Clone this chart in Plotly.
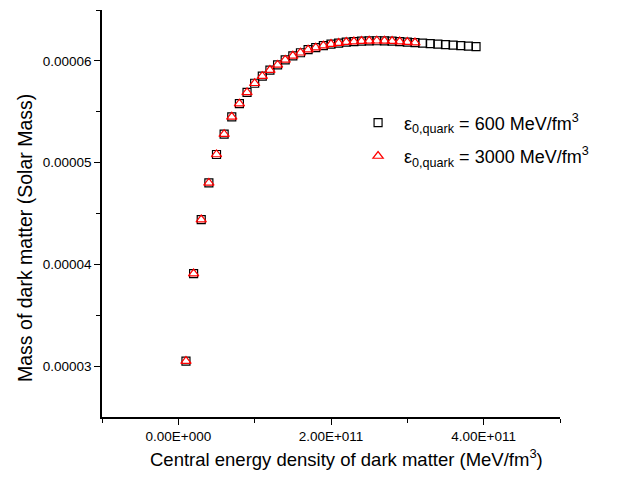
import plotly.graph_objects as go

# Central energy density of dark matter (MeV/fm^3)
x_600 = [1e10, 2e10, 3e10, 4e10, 5e10, 6e10, 7e10, 8e10, 9e10, 10e10,
         11e10, 12e10, 13e10, 14e10, 15e10, 16e10, 17e10, 18e10, 19e10, 20e10,
         21e10, 22e10, 23e10, 24e10, 25e10, 26e10, 27e10, 28e10, 29e10, 30e10,
         31e10, 32e10, 33e10, 34e10, 35e10, 36e10, 37e10, 38e10, 39e10]
y_600 = [3.05e-5, 3.91e-5, 4.44e-5, 4.80e-5, 5.08e-5, 5.28e-5, 5.45e-5, 5.58e-5, 5.69e-5, 5.78e-5,
         5.85e-5, 5.91e-5, 5.96e-5, 6.01e-5, 6.05e-5, 6.08e-5, 6.11e-5, 6.13e-5, 6.15e-5, 6.165e-5,
         6.175e-5, 6.185e-5, 6.19e-5, 6.195e-5, 6.197e-5, 6.198e-5, 6.197e-5, 6.195e-5, 6.19e-5, 6.185e-5,
         6.18e-5, 6.175e-5, 6.17e-5, 6.165e-5, 6.16e-5, 6.155e-5, 6.15e-5, 6.145e-5, 6.14e-5]

x_3000 = [1e10, 2e10, 3e10, 4e10, 5e10, 6e10, 7e10, 8e10, 9e10, 10e10,
          11e10, 12e10, 13e10, 14e10, 15e10, 16e10, 17e10, 18e10, 19e10, 20e10,
          21e10, 22e10, 23e10, 24e10, 25e10, 26e10, 27e10, 28e10, 29e10, 30e10, 31e10]
y_3000 = [3.05e-5, 3.91e-5, 4.44e-5, 4.80e-5, 5.08e-5, 5.28e-5, 5.45e-5, 5.58e-5, 5.69e-5, 5.78e-5,
          5.85e-5, 5.91e-5, 5.96e-5, 6.01e-5, 6.05e-5, 6.08e-5, 6.11e-5, 6.13e-5, 6.15e-5, 6.165e-5,
          6.175e-5, 6.185e-5, 6.19e-5, 6.195e-5, 6.197e-5, 6.198e-5, 6.197e-5, 6.195e-5, 6.19e-5, 6.185e-5,
          6.18e-5]

x_tickvals = [0, 2e11, 4e11]
x_ticktext = ["0.00E+000", "2.00E+011", "4.00E+011"]
x_minor = [-1e11, 1e11, 3e11, 5e11]
y_tickvals = [3e-5, 4e-5, 5e-5, 6e-5]
y_ticktext = ["0.00003", "0.00004", "0.00005", "0.00006"]
y_minor = [3.5e-5, 4.5e-5, 5.5e-5, 6.5e-5]

x_title = "Central energy density of dark matter (MeV/fm<sup>3</sup>)"
y_title = "Mass of dark matter (Solar Mass)"

font_family = "Liberation Sans, Arial, sans-serif"

fig = go.Figure()
fig.add_trace(go.Scatter(
    x=x_600, y=y_600, mode="markers", legendgroup="a",
    name="ε<sub>0,quark</sub> = 600 MeV/fm<sup>3</sup>",
    marker=dict(symbol="square-open", size=8, color="black", line=dict(width=1.2, color="black")),
))
fig.add_trace(go.Scatter(
    x=x_3000, y=y_3000, mode="markers", legendgroup="b",
    name="ε<sub>0,quark</sub> = 3000 MeV/fm<sup>3</sup>",
    marker=dict(symbol="triangle-up-open", size=9, color="red", line=dict(width=1.2, color="red")),
))

fig.update_layout(
    width=622, height=479,
    margin=dict(l=94, r=70, t=2, b=70),
    plot_bgcolor="white", paper_bgcolor="white",
    font=dict(family=font_family, color="black", size=13),
    showlegend=True,
    legend=dict(x=0.546, y=0.768, xanchor="left", yanchor="top",
                bgcolor="rgba(0,0,0,0)", font=dict(size=18, family=font_family),
                itemwidth=42, tracegroupgap=7),
    annotations=[
        dict(text=x_title, xref="paper", yref="paper", x=0.533, y=-0.10,
             xanchor="center", yanchor="middle", showarrow=False, font=dict(size=18.5)),
        dict(text=y_title, xref="paper", yref="paper", x=-0.168, y=0.44, textangle=-90,
             xanchor="center", yanchor="middle", showarrow=False, font=dict(size=19.5)),
    ],
)
fig.update_xaxes(
    range=[-1e11, 5e11], showgrid=False, zeroline=False, automargin=False,
    showline=True, linecolor="black", linewidth=1.5,
    tickmode="array", tickvals=x_tickvals, ticktext=x_ticktext,
    ticks="outside", ticklen=6, tickwidth=1.2, tickcolor="black",
    minor=dict(tickmode="array", tickvals=x_minor, ticks="outside", ticklen=4, tickwidth=1.2, tickcolor="black"),
    tickfont=dict(size=13.5),
)
fig.update_yaxes(
    range=[2.5e-5, 6.5e-5], showgrid=False, zeroline=False, automargin=False,
    showline=True, linecolor="black", linewidth=1.5,
    tickmode="array", tickvals=y_tickvals, ticktext=y_ticktext,
    ticks="outside", ticklen=6, tickwidth=1.2, tickcolor="black",
    minor=dict(tickmode="array", tickvals=y_minor, ticks="outside", ticklen=4, tickwidth=1.2, tickcolor="black"),
    tickfont=dict(size=13.5),
)

fig.write_html("out.html")
